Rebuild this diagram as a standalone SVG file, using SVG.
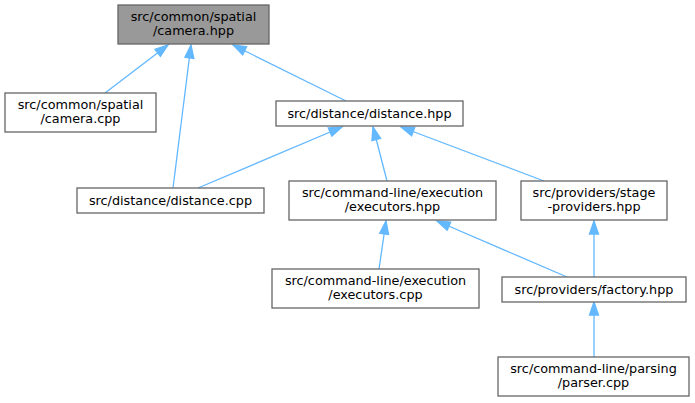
<svg xmlns="http://www.w3.org/2000/svg" width="695" height="403" viewBox="0 0 695 403">
<style>
.n rect{fill:#ffffff;stroke:#666666;stroke-width:1.3}
.n.hl rect{fill:#999999}
.n text{font-family:"DejaVu Sans",sans-serif;font-size:12.8px;fill:#000000;text-anchor:middle}
.e path{fill:none;stroke:#63b8ff;stroke-width:1.3;marker-end:url(#ah)}
</style>
<defs>
<marker id="ah" markerUnits="userSpaceOnUse" markerWidth="14" markerHeight="10" refX="13" refY="4.5" orient="auto" overflow="visible">
<path d="M0,0 L13,4.5 L0,9 z" fill="#63b8ff" stroke="#63b8ff" stroke-width="1.3"/>
</marker>
</defs>
<rect width="695" height="403" fill="#ffffff"/>
<g id="edges" class="e">
<path d="M105,93 L168,45"/>
<path d="M173,188 L191,45"/>
<path d="M346,101 L233,45"/>
<path d="M198,188 L342,127"/>
<path d="M387,181 L373,127"/>
<path d="M544,181 L401,127"/>
<path d="M379,269 L386,221"/>
<path d="M567,277 L437,221"/>
<path d="M594,277 L594,221"/>
<path d="M594,357 L594,302"/>
</g>
<g id="camera_hpp" class="n hl"><rect x="118" y="5" width="151" height="39"/><text x="193.5" y="20.5">src/common/spatial</text><text x="193.5" y="35">/camera.hpp</text></g>
<g id="camera_cpp" class="n"><rect x="5" y="93" width="151" height="39"/><text x="80.5" y="108.5">src/common/spatial</text><text x="80.5" y="123">/camera.cpp</text></g>
<g id="distance_hpp" class="n"><rect x="276" y="101" width="187" height="25"/><text x="369.5" y="118">src/distance/distance.hpp</text></g>
<g id="distance_cpp" class="n"><rect x="77" y="188" width="187" height="25"/><text x="170.5" y="205">src/distance/distance.cpp</text></g>
<g id="executors_hpp" class="n"><rect x="289" y="181" width="207" height="39"/><text x="392.5" y="196.5">src/command-line/execution</text><text x="392.5" y="211">/executors.hpp</text></g>
<g id="stage_providers_hpp" class="n"><rect x="521" y="181" width="146" height="39"/><text x="594" y="196.5">src/providers/stage</text><text x="594" y="211">-providers.hpp</text></g>
<g id="executors_cpp" class="n"><rect x="272" y="269" width="207" height="39"/><text x="375.5" y="284.5">src/command-line/execution</text><text x="375.5" y="299">/executors.cpp</text></g>
<g id="factory_hpp" class="n"><rect x="502" y="277" width="184" height="25"/><text x="594" y="294">src/providers/factory.hpp</text></g>
<g id="parser_cpp" class="n"><rect x="498" y="357" width="191" height="39"/><text x="593.5" y="372.5">src/command-line/parsing</text><text x="593.5" y="387">/parser.cpp</text></g>
</svg>
